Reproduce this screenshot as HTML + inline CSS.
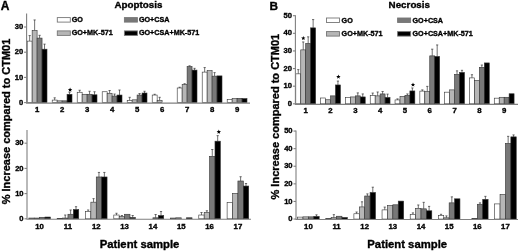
<!DOCTYPE html>
<html><head><meta charset="utf-8"><style>
html,body{margin:0;padding:0;background:#fff;}
svg{display:block;filter:grayscale(1) blur(0.3px);}
text{font-family:"Liberation Sans",sans-serif;font-weight:bold;fill:#000;stroke:#000;stroke-width:0.35px;}
.tk{font-size:7.6px;text-anchor:end;}
.cl{font-size:7.8px;text-anchor:middle;}
.lg{font-size:7.2px;}
.ti{font-size:9.8px;text-anchor:middle;}
.yl{font-size:11px;text-anchor:middle;}
.xl{font-size:11.3px;text-anchor:middle;}
.st{font-size:11.5px;text-anchor:middle;}
.ax{stroke:#808080;stroke-width:1.1;fill:none;}
.eb{stroke:#333;stroke-width:0.7;fill:none;}
.br{stroke:#333;stroke-width:0.6;}
.lb{stroke:#777;stroke-width:0.9;}
</style></head><body>
<svg width="520" height="251" viewBox="0 0 520 251">
<path d="M29.68 41.11V35.57M28.58 35.57H30.78" class="eb"/>
<rect x="27.2" y="41.11" width="4.95" height="61.49" fill="#ffffff" class="br"/>
<path d="M34.63 30.53V19.94M33.53 19.94H35.73" class="eb"/>
<rect x="32.15" y="30.53" width="4.95" height="72.07" fill="#b6b6b6" class="br"/>
<path d="M39.58 38.09V35.32M38.48 35.32H40.68" class="eb"/>
<rect x="37.1" y="38.09" width="4.95" height="64.51" fill="#787878" class="br"/>
<path d="M44.53 49.18V44.14M43.43 44.14H45.63" class="eb"/>
<rect x="42.05" y="49.18" width="4.95" height="53.42" fill="#000000" class="br"/>
<path d="M54.68 100.08V97.81M53.58 97.81H55.78" class="eb"/>
<rect x="52.2" y="100.08" width="4.95" height="2.52" fill="#ffffff" class="br"/>
<rect x="57.15" y="100.84" width="4.95" height="1.76" fill="#b6b6b6" class="br"/>
<rect x="62.1" y="100.84" width="4.95" height="1.76" fill="#787878" class="br"/>
<path d="M69.53 94.28V92.27M68.43 92.27H70.62" class="eb"/>
<rect x="67.05" y="94.28" width="4.95" height="8.32" fill="#000000" class="br"/>
<path d="M79.67 92.27V90.25M78.57 90.25H80.77" class="eb"/>
<rect x="77.2" y="92.27" width="4.95" height="10.33" fill="#ffffff" class="br"/>
<rect x="82.15" y="94.28" width="4.95" height="8.32" fill="#b6b6b6" class="br"/>
<path d="M89.57 94.28V91.26M88.47 91.26H90.67" class="eb"/>
<rect x="87.1" y="94.28" width="4.95" height="8.32" fill="#787878" class="br"/>
<path d="M94.52 94.79V91.76M93.42 91.76H95.62" class="eb"/>
<rect x="92.05" y="94.79" width="4.95" height="7.81" fill="#000000" class="br"/>
<rect x="102.2" y="91.76" width="4.95" height="10.84" fill="#ffffff" class="br"/>
<path d="M109.62 93.28V90.5M108.52 90.5H110.72" class="eb"/>
<rect x="107.15" y="93.28" width="4.95" height="9.32" fill="#b6b6b6" class="br"/>
<path d="M114.57 96.05V94.03M113.47 94.03H115.67" class="eb"/>
<rect x="112.1" y="96.05" width="4.95" height="6.55" fill="#787878" class="br"/>
<path d="M119.52 95.04V90M118.42 90H120.62" class="eb"/>
<rect x="117.05" y="95.04" width="4.95" height="7.56" fill="#000000" class="br"/>
<path d="M129.67 100.51V97.31M128.57 97.31H130.77" class="eb"/>
<rect x="127.2" y="100.51" width="4.95" height="2.09" fill="#ffffff" class="br"/>
<rect x="132.15" y="99.83" width="4.95" height="2.77" fill="#b6b6b6" class="br"/>
<path d="M139.57 95.04V93.53M138.47 93.53H140.67" class="eb"/>
<rect x="137.1" y="95.04" width="4.95" height="7.56" fill="#787878" class="br"/>
<path d="M144.52 93.02V91.26M143.42 91.26H145.62" class="eb"/>
<rect x="142.05" y="93.02" width="4.95" height="9.58" fill="#000000" class="br"/>
<path d="M154.67 95.04V94.28M153.57 94.28H155.77" class="eb"/>
<rect x="152.2" y="95.04" width="4.95" height="7.56" fill="#ffffff" class="br"/>
<path d="M159.62 100.51V97.31M158.52 97.31H160.72" class="eb"/>
<rect x="157.15" y="100.51" width="4.95" height="2.09" fill="#b6b6b6" class="br"/>
<path d="M179.67 87.98V87.23M178.57 87.23H180.77" class="eb"/>
<rect x="177.2" y="87.98" width="4.95" height="14.62" fill="#ffffff" class="br"/>
<path d="M184.62 84.58V83.7M183.52 83.7H185.72" class="eb"/>
<rect x="182.15" y="84.58" width="4.95" height="18.02" fill="#b6b6b6" class="br"/>
<path d="M189.57 66.56V65.81M188.47 65.81H190.67" class="eb"/>
<rect x="187.1" y="66.56" width="4.95" height="36.04" fill="#787878" class="br"/>
<path d="M194.52 70.09V68.33M193.42 68.33H195.62" class="eb"/>
<rect x="192.05" y="70.09" width="4.95" height="32.51" fill="#000000" class="br"/>
<path d="M204.67 72.11V67.57M203.57 67.57H205.77" class="eb"/>
<rect x="202.2" y="72.11" width="4.95" height="30.49" fill="#ffffff" class="br"/>
<rect x="207.15" y="70.6" width="4.95" height="32" fill="#b6b6b6" class="br"/>
<path d="M214.57 76.14V72.61M213.47 72.61H215.67" class="eb"/>
<rect x="212.1" y="76.14" width="4.95" height="26.46" fill="#787878" class="br"/>
<rect x="217.05" y="75.89" width="4.95" height="26.71" fill="#000000" class="br"/>
<rect x="227.2" y="99.32" width="4.95" height="3.28" fill="#ffffff" class="br"/>
<rect x="232.15" y="98.57" width="4.95" height="4.03" fill="#b6b6b6" class="br"/>
<rect x="237.1" y="98.32" width="4.95" height="4.28" fill="#787878" class="br"/>
<rect x="242.05" y="98.57" width="4.95" height="4.03" fill="#000000" class="br"/>
<polygon points="70.1,87.62 70.69,89.11 72.29,89.21 71.05,90.23 71.45,91.78 70.1,90.92 68.75,91.78 69.15,90.23 67.91,89.21 69.51,89.11" fill="#000"/>
<path d="M26.6 13.6V103.1H250" class="ax"/>
<path d="M24.1 102.6H26.6" class="ax"/>
<text x="23.2" y="104.7" class="tk">0</text>
<path d="M24.1 77.4H26.6" class="ax"/>
<text x="23.2" y="79.5" class="tk">10</text>
<path d="M24.1 52.2H26.6" class="ax"/>
<text x="23.2" y="54.3" class="tk">20</text>
<path d="M24.1 27H26.6" class="ax"/>
<text x="23.2" y="29.1" class="tk">30</text>
<text x="37.1" y="111.8" class="cl">1</text>
<text x="62.1" y="111.8" class="cl">2</text>
<text x="87.1" y="111.8" class="cl">3</text>
<text x="112.1" y="111.8" class="cl">4</text>
<text x="137.1" y="111.8" class="cl">5</text>
<text x="162.1" y="111.8" class="cl">6</text>
<text x="187.1" y="111.8" class="cl">7</text>
<text x="212.1" y="111.8" class="cl">8</text>
<text x="237.1" y="111.8" class="cl">9</text>
<rect x="28.8" y="218.04" width="5.4" height="0.76" fill="#ffffff" class="br"/>
<rect x="34.2" y="218.04" width="5.4" height="0.76" fill="#b6b6b6" class="br"/>
<rect x="39.6" y="217.29" width="5.4" height="1.51" fill="#787878" class="br"/>
<rect x="45" y="217.04" width="5.4" height="1.76" fill="#000000" class="br"/>
<rect x="57.13" y="218.55" width="5.4" height="0.25" fill="#ffffff" class="br"/>
<path d="M65.23 218.04V215.02M64.13 215.02H66.33" class="eb"/>
<rect x="62.53" y="218.04" width="5.4" height="0.76" fill="#b6b6b6" class="br"/>
<path d="M70.63 214.26V209.98M69.53 209.98H71.73" class="eb"/>
<rect x="67.93" y="214.26" width="5.4" height="4.54" fill="#787878" class="br"/>
<path d="M76.03 209.48V206.7M74.93 206.7H77.13" class="eb"/>
<rect x="73.33" y="209.48" width="5.4" height="9.32" fill="#000000" class="br"/>
<path d="M88.16 211.49V209.98M87.06 209.98H89.26" class="eb"/>
<rect x="85.46" y="211.49" width="5.4" height="7.31" fill="#ffffff" class="br"/>
<path d="M93.56 202.17V198.64M92.46 198.64H94.66" class="eb"/>
<rect x="90.86" y="202.17" width="5.4" height="16.63" fill="#b6b6b6" class="br"/>
<path d="M98.96 176.97V172.43M97.86 172.43H100.06" class="eb"/>
<rect x="96.26" y="176.97" width="5.4" height="41.83" fill="#787878" class="br"/>
<path d="M104.36 176.97V172.43M103.26 172.43H105.46" class="eb"/>
<rect x="101.66" y="176.97" width="5.4" height="41.83" fill="#000000" class="br"/>
<path d="M116.49 215.02V213.26M115.39 213.26H117.59" class="eb"/>
<rect x="113.79" y="215.02" width="5.4" height="3.78" fill="#ffffff" class="br"/>
<path d="M121.89 216.53V215.52M120.79 215.52H122.99" class="eb"/>
<rect x="119.19" y="216.53" width="5.4" height="2.27" fill="#b6b6b6" class="br"/>
<rect x="124.59" y="214.26" width="5.4" height="4.54" fill="#787878" class="br"/>
<path d="M132.69 217.54V215.52M131.59 215.52H133.79" class="eb"/>
<rect x="129.99" y="217.54" width="5.4" height="1.26" fill="#000000" class="br"/>
<path d="M155.62 217.79V214.52M154.52 214.52H156.72" class="eb"/>
<rect x="152.92" y="217.79" width="5.4" height="1.01" fill="#787878" class="br"/>
<path d="M161.02 215.52V211.49M159.92 211.49H162.12" class="eb"/>
<rect x="158.32" y="215.52" width="5.4" height="3.28" fill="#000000" class="br"/>
<rect x="170.45" y="218.04" width="5.4" height="0.76" fill="#ffffff" class="br"/>
<rect x="175.85" y="217.79" width="5.4" height="1.01" fill="#b6b6b6" class="br"/>
<rect x="186.65" y="217.79" width="5.4" height="1.01" fill="#000000" class="br"/>
<path d="M201.48 215.02V212.5M200.38 212.5H202.58" class="eb"/>
<rect x="198.78" y="215.02" width="5.4" height="3.78" fill="#ffffff" class="br"/>
<path d="M206.88 212.5V210.74M205.78 210.74H207.98" class="eb"/>
<rect x="204.18" y="212.5" width="5.4" height="6.3" fill="#b6b6b6" class="br"/>
<path d="M212.28 156.3V149.5M211.18 149.5H213.38" class="eb"/>
<rect x="209.58" y="156.3" width="5.4" height="62.5" fill="#787878" class="br"/>
<path d="M217.68 141.18V135.64M216.58 135.64H218.78" class="eb"/>
<rect x="214.98" y="141.18" width="5.4" height="77.62" fill="#000000" class="br"/>
<rect x="227.11" y="202.67" width="5.4" height="16.13" fill="#ffffff" class="br"/>
<rect x="232.51" y="193.35" width="5.4" height="25.45" fill="#b6b6b6" class="br"/>
<path d="M240.61 181V176.72M239.51 176.72H241.71" class="eb"/>
<rect x="237.91" y="181" width="5.4" height="37.8" fill="#787878" class="br"/>
<path d="M246.01 186.04V183.52M244.91 183.52H247.11" class="eb"/>
<rect x="243.31" y="186.04" width="5.4" height="32.76" fill="#000000" class="br"/>
<polygon points="218.8,129.62 219.39,131.11 220.99,131.21 219.75,132.23 220.15,133.78 218.8,132.92 217.45,133.78 217.85,132.23 216.61,131.21 218.21,131.11" fill="#000"/>
<path d="M27 130V219.25H251" class="ax"/>
<path d="M24.5 218.8H27" class="ax"/>
<text x="23.6" y="220.9" class="tk">0</text>
<path d="M24.5 193.6H27" class="ax"/>
<text x="23.6" y="195.7" class="tk">10</text>
<path d="M24.5 168.4H27" class="ax"/>
<text x="23.6" y="170.5" class="tk">20</text>
<path d="M24.5 143.2H27" class="ax"/>
<text x="23.6" y="145.3" class="tk">30</text>
<text x="39.6" y="228.8" class="cl">10</text>
<text x="67.93" y="228.8" class="cl">11</text>
<text x="96.26" y="228.8" class="cl">12</text>
<text x="124.59" y="228.8" class="cl">13</text>
<text x="152.92" y="228.8" class="cl">14</text>
<text x="181.25" y="228.8" class="cl">15</text>
<text x="209.58" y="228.8" class="cl">16</text>
<text x="237.91" y="228.8" class="cl">17</text>
<path d="M298.28 73.85V69.62M297.18 69.62H299.38" class="eb"/>
<rect x="295.8" y="73.85" width="4.95" height="29.95" fill="#ffffff" class="br"/>
<path d="M303.23 49.88V41.95M302.12 41.95H304.33" class="eb"/>
<rect x="300.75" y="49.88" width="4.95" height="53.92" fill="#b6b6b6" class="br"/>
<path d="M308.18 43.36V36.84M307.07 36.84H309.28" class="eb"/>
<rect x="305.7" y="43.36" width="4.95" height="60.44" fill="#787878" class="br"/>
<path d="M313.13 27.86V19.58M312.03 19.58H314.23" class="eb"/>
<rect x="310.65" y="27.86" width="4.95" height="75.94" fill="#000000" class="br"/>
<rect x="320.61" y="97.99" width="4.95" height="5.81" fill="#ffffff" class="br"/>
<rect x="325.56" y="99.75" width="4.95" height="4.05" fill="#b6b6b6" class="br"/>
<rect x="330.51" y="95.87" width="4.95" height="7.93" fill="#787878" class="br"/>
<path d="M337.94 84.95V81.07M336.84 81.07H339.04" class="eb"/>
<rect x="335.46" y="84.95" width="4.95" height="18.85" fill="#000000" class="br"/>
<rect x="345.42" y="97.46" width="4.95" height="6.34" fill="#ffffff" class="br"/>
<rect x="350.37" y="96.93" width="4.95" height="6.87" fill="#b6b6b6" class="br"/>
<path d="M357.8 95.87V92.88M356.69 92.88H358.9" class="eb"/>
<rect x="355.32" y="95.87" width="4.95" height="7.93" fill="#787878" class="br"/>
<path d="M362.75 96.93V93.93M361.65 93.93H363.85" class="eb"/>
<rect x="360.27" y="96.93" width="4.95" height="6.87" fill="#000000" class="br"/>
<path d="M372.71 95.52V93.05M371.61 93.05H373.81" class="eb"/>
<rect x="370.23" y="95.52" width="4.95" height="8.28" fill="#ffffff" class="br"/>
<path d="M377.66 95.87V91.99M376.56 91.99H378.76" class="eb"/>
<rect x="375.18" y="95.87" width="4.95" height="7.93" fill="#b6b6b6" class="br"/>
<path d="M382.61 93.93V91.47M381.5 91.47H383.71" class="eb"/>
<rect x="380.13" y="93.93" width="4.95" height="9.87" fill="#787878" class="br"/>
<path d="M387.56 97.46V94.11M386.46 94.11H388.66" class="eb"/>
<rect x="385.08" y="97.46" width="4.95" height="6.34" fill="#000000" class="br"/>
<path d="M397.52 99.92V98.87M396.42 98.87H398.62" class="eb"/>
<rect x="395.04" y="99.92" width="4.95" height="3.88" fill="#ffffff" class="br"/>
<rect x="399.99" y="96.4" width="4.95" height="7.4" fill="#b6b6b6" class="br"/>
<path d="M407.42 95.34V93.93M406.31 93.93H408.52" class="eb"/>
<rect x="404.94" y="95.34" width="4.95" height="8.46" fill="#787878" class="br"/>
<path d="M412.37 90.94V87.94M411.27 87.94H413.47" class="eb"/>
<rect x="409.89" y="90.94" width="4.95" height="12.86" fill="#000000" class="br"/>
<path d="M422.33 91.11V89.88M421.23 89.88H423.43" class="eb"/>
<rect x="419.85" y="91.11" width="4.95" height="12.69" fill="#ffffff" class="br"/>
<path d="M427.28 91.64V86.36M426.18 86.36H428.38" class="eb"/>
<rect x="424.8" y="91.64" width="4.95" height="12.16" fill="#b6b6b6" class="br"/>
<path d="M432.23 55.87V49.18M431.12 49.18H433.33" class="eb"/>
<rect x="429.75" y="55.87" width="4.95" height="47.93" fill="#787878" class="br"/>
<path d="M437.18 56.4V44.95M436.08 44.95H438.28" class="eb"/>
<rect x="434.7" y="56.4" width="4.95" height="47.4" fill="#000000" class="br"/>
<rect x="444.66" y="92.17" width="4.95" height="11.63" fill="#ffffff" class="br"/>
<rect x="449.61" y="89.88" width="4.95" height="13.92" fill="#b6b6b6" class="br"/>
<path d="M457.03 74.37V70.85M455.93 70.85H458.13" class="eb"/>
<rect x="454.56" y="74.37" width="4.95" height="29.43" fill="#787878" class="br"/>
<path d="M461.99 72.44V70.32M460.88 70.32H463.09" class="eb"/>
<rect x="459.51" y="72.44" width="4.95" height="31.36" fill="#000000" class="br"/>
<path d="M471.95 77.9V74.73M470.85 74.73H473.05" class="eb"/>
<rect x="469.47" y="77.9" width="4.95" height="25.9" fill="#ffffff" class="br"/>
<rect x="474.42" y="80.37" width="4.95" height="23.43" fill="#b6b6b6" class="br"/>
<path d="M481.85 67.33V65.04M480.75 65.04H482.95" class="eb"/>
<rect x="479.37" y="67.33" width="4.95" height="36.47" fill="#787878" class="br"/>
<rect x="484.32" y="62.92" width="4.95" height="40.88" fill="#000000" class="br"/>
<rect x="494.28" y="98.16" width="4.95" height="5.64" fill="#ffffff" class="br"/>
<rect x="499.23" y="97.28" width="4.95" height="6.52" fill="#b6b6b6" class="br"/>
<rect x="504.18" y="97.28" width="4.95" height="6.52" fill="#787878" class="br"/>
<rect x="509.13" y="93.76" width="4.95" height="10.04" fill="#000000" class="br"/>
<polygon points="303.3,35.92 303.89,37.41 305.49,37.51 304.25,38.53 304.65,40.08 303.3,39.22 301.95,40.08 302.35,38.53 301.11,37.51 302.71,37.41" fill="#000"/>
<polygon points="338.4,74.52 338.99,76.01 340.59,76.11 339.35,77.13 339.75,78.68 338.4,77.82 337.05,78.68 337.45,77.13 336.21,76.11 337.81,76.01" fill="#000"/>
<polygon points="413,82.42 413.59,83.91 415.19,84.01 413.95,85.03 414.35,86.58 413,85.72 411.65,86.58 412.05,85.03 410.81,84.01 412.41,83.91" fill="#000"/>
<path d="M295.4 15.3V104.35H518" class="ax"/>
<path d="M292.9 103.8H295.4" class="ax"/>
<text x="292" y="105.9" class="tk">0</text>
<path d="M292.9 86.18H295.4" class="ax"/>
<text x="292" y="88.28" class="tk">10</text>
<path d="M292.9 68.56H295.4" class="ax"/>
<text x="292" y="70.66" class="tk">20</text>
<path d="M292.9 50.94H295.4" class="ax"/>
<text x="292" y="53.04" class="tk">30</text>
<path d="M292.9 33.32H295.4" class="ax"/>
<text x="292" y="35.42" class="tk">40</text>
<path d="M292.9 15.7H295.4" class="ax"/>
<text x="292" y="17.8" class="tk">50</text>
<text x="305.7" y="112.8" class="cl">1</text>
<text x="330.51" y="112.8" class="cl">2</text>
<text x="355.32" y="112.8" class="cl">3</text>
<text x="380.13" y="112.8" class="cl">4</text>
<text x="404.94" y="112.8" class="cl">5</text>
<text x="429.75" y="112.8" class="cl">6</text>
<text x="454.56" y="112.8" class="cl">7</text>
<text x="479.37" y="112.8" class="cl">8</text>
<text x="504.18" y="112.8" class="cl">9</text>
<rect x="297.6" y="217.11" width="5.4" height="1.94" fill="#ffffff" class="br"/>
<rect x="303" y="216.85" width="5.4" height="2.2" fill="#b6b6b6" class="br"/>
<rect x="308.4" y="216.85" width="5.4" height="2.2" fill="#787878" class="br"/>
<path d="M316.5 216.41V214.83M315.4 214.83H317.6" class="eb"/>
<rect x="313.8" y="216.41" width="5.4" height="2.64" fill="#000000" class="br"/>
<rect x="325.75" y="218.52" width="5.4" height="0.53" fill="#ffffff" class="br"/>
<path d="M333.85 217.64V214.65M332.75 214.65H334.95" class="eb"/>
<rect x="331.15" y="217.64" width="5.4" height="1.41" fill="#b6b6b6" class="br"/>
<rect x="336.55" y="216.23" width="5.4" height="2.82" fill="#787878" class="br"/>
<rect x="341.95" y="217.47" width="5.4" height="1.58" fill="#000000" class="br"/>
<path d="M356.6 213.77V212.01M355.5 212.01H357.7" class="eb"/>
<rect x="353.9" y="213.77" width="5.4" height="5.28" fill="#ffffff" class="br"/>
<path d="M362 206.91V201.8M360.9 201.8H363.1" class="eb"/>
<rect x="359.3" y="206.91" width="5.4" height="12.14" fill="#b6b6b6" class="br"/>
<path d="M367.4 195.99V193.88M366.3 193.88H368.5" class="eb"/>
<rect x="364.7" y="195.99" width="5.4" height="23.06" fill="#787878" class="br"/>
<path d="M372.8 192.47V187.19M371.7 187.19H373.9" class="eb"/>
<rect x="370.1" y="192.47" width="5.4" height="26.58" fill="#000000" class="br"/>
<path d="M384.75 209.9V207.08M383.65 207.08H385.85" class="eb"/>
<rect x="382.05" y="209.9" width="5.4" height="9.15" fill="#ffffff" class="br"/>
<rect x="387.45" y="205.5" width="5.4" height="13.55" fill="#b6b6b6" class="br"/>
<rect x="392.85" y="204.79" width="5.4" height="14.26" fill="#787878" class="br"/>
<rect x="398.25" y="201.1" width="5.4" height="17.95" fill="#000000" class="br"/>
<path d="M412.9 214.3V212.89M411.8 212.89H414" class="eb"/>
<rect x="410.2" y="214.3" width="5.4" height="4.75" fill="#ffffff" class="br"/>
<path d="M418.3 208.31V204.97M417.2 204.97H419.4" class="eb"/>
<rect x="415.6" y="208.31" width="5.4" height="10.74" fill="#b6b6b6" class="br"/>
<path d="M423.7 208.84V202.33M422.6 202.33H424.8" class="eb"/>
<rect x="421" y="208.84" width="5.4" height="10.21" fill="#787878" class="br"/>
<path d="M429.1 210.78V206.38M428 206.38H430.2" class="eb"/>
<rect x="426.4" y="210.78" width="5.4" height="8.27" fill="#000000" class="br"/>
<path d="M441.05 215.35V214.3M439.95 214.3H442.15" class="eb"/>
<rect x="438.35" y="215.35" width="5.4" height="3.7" fill="#ffffff" class="br"/>
<path d="M446.45 217.82V215.88M445.35 215.88H447.55" class="eb"/>
<rect x="443.75" y="217.82" width="5.4" height="1.23" fill="#b6b6b6" class="br"/>
<path d="M451.85 202.86V196.87M450.75 196.87H452.95" class="eb"/>
<rect x="449.15" y="202.86" width="5.4" height="16.19" fill="#787878" class="br"/>
<rect x="454.55" y="198.81" width="5.4" height="20.24" fill="#000000" class="br"/>
<rect x="471.9" y="218.52" width="5.4" height="0.53" fill="#b6b6b6" class="br"/>
<path d="M480 204.27V202.86M478.9 202.86H481.1" class="eb"/>
<rect x="477.3" y="204.27" width="5.4" height="14.78" fill="#787878" class="br"/>
<path d="M485.4 199.34V196.35M484.3 196.35H486.5" class="eb"/>
<rect x="482.7" y="199.34" width="5.4" height="19.71" fill="#000000" class="br"/>
<rect x="494.65" y="203.91" width="5.4" height="15.14" fill="#ffffff" class="br"/>
<rect x="500.05" y="194.41" width="5.4" height="24.64" fill="#b6b6b6" class="br"/>
<path d="M508.15 143.37V136.33M507.05 136.33H509.25" class="eb"/>
<rect x="505.45" y="143.37" width="5.4" height="75.68" fill="#787878" class="br"/>
<path d="M513.55 136.86V134.92M512.45 134.92H514.65" class="eb"/>
<rect x="510.85" y="136.86" width="5.4" height="82.19" fill="#000000" class="br"/>
<path d="M296 130.5V219.55H518" class="ax"/>
<path d="M293.5 219.05H296" class="ax"/>
<text x="292.6" y="221.15" class="tk">0</text>
<path d="M293.5 201.45H296" class="ax"/>
<text x="292.6" y="203.55" class="tk">10</text>
<path d="M293.5 183.85H296" class="ax"/>
<text x="292.6" y="185.95" class="tk">20</text>
<path d="M293.5 166.25H296" class="ax"/>
<text x="292.6" y="168.35" class="tk">30</text>
<path d="M293.5 148.65H296" class="ax"/>
<text x="292.6" y="150.75" class="tk">40</text>
<path d="M293.5 131.05H296" class="ax"/>
<text x="292.6" y="133.15" class="tk">50</text>
<text x="308.4" y="229" class="cl">10</text>
<text x="336.55" y="229" class="cl">11</text>
<text x="364.7" y="229" class="cl">12</text>
<text x="392.85" y="229" class="cl">13</text>
<text x="421" y="229" class="cl">14</text>
<text x="449.15" y="229" class="cl">15</text>
<text x="477.3" y="229" class="cl">16</text>
<text x="505.45" y="229" class="cl">17</text>
<rect x="57.3" y="17.6" width="13" height="4.5" fill="#ffffff" class="lb"/>
<text x="71.7" y="22.2" class="lg">GO</text>
<rect x="124.4" y="17.6" width="13" height="4.5" fill="#787878" class="lb"/>
<text x="138.9" y="22.2" class="lg">GO+CSA</text>
<rect x="57.3" y="30.9" width="13" height="4.5" fill="#b6b6b6" class="lb"/>
<text x="71.7" y="35.2" class="lg">GO+MK-571</text>
<rect x="124.4" y="30.9" width="13" height="4.5" fill="#000000" class="lb"/>
<text x="138.9" y="35.2" class="lg">GO+CSA+MK-571</text>
<rect x="326.5" y="18" width="13" height="4.5" fill="#ffffff" class="lb"/>
<text x="341.6" y="22.7" class="lg">GO</text>
<rect x="397.6" y="18" width="13" height="4.5" fill="#787878" class="lb"/>
<text x="412.5" y="22.7" class="lg">GO+CSA</text>
<rect x="326.5" y="31.6" width="13" height="4.5" fill="#b6b6b6" class="lb"/>
<text x="341.6" y="36.3" class="lg">GO+MK-571</text>
<rect x="397.6" y="31.6" width="13" height="4.5" fill="#000000" class="lb"/>
<text x="412.5" y="36.3" class="lg">GO+CSA+MK-571</text>
<text x="0.64" y="9.6" class="pl" style="font-size:12px">A</text>
<text x="269.4" y="9.5" class="pl" style="font-size:11.8px">B</text>
<text x="138.5" y="7.9" class="ti">Apoptosis</text>
<text x="409.3" y="8.2" class="ti">Necrosis</text>
<text transform="translate(10 121.5) rotate(-90)" class="yl">% Increase compared to CTM01</text>
<text transform="translate(278.7 116.65) rotate(-90)" class="yl">% Increase compared to CTM01</text>
<text x="139.5" y="248.2" class="xl">Patient sample</text>
<text x="407.2" y="248.2" class="xl">Patient sample</text>
</svg>
</body></html>
